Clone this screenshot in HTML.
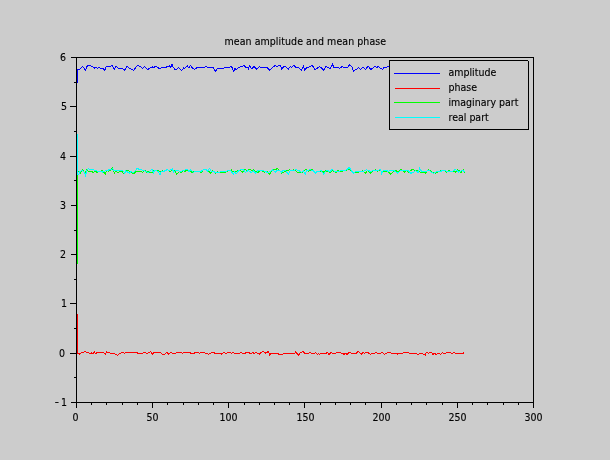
<!DOCTYPE html>
<html><head><meta charset="utf-8"><title>mean amplitude and mean phase</title>
<style>html,body{margin:0;padding:0;background:#cccccc;width:610px;height:460px;overflow:hidden}svg{display:block}</style>
</head><body><svg width="610" height="460" viewBox="0 0 610 460"><rect x="0" y="0" width="610" height="460" fill="#cccccc"/><polyline points="77.50,82.50 77.50,69.80 79.00,69.80 82.60,66.20 85.50,70.50 87.50,65.20 90.10,65.20 94.40,68.20 95.70,67.20 97.60,68.20 99.00,67.50 100.90,68.50 102.90,68.50 104.90,70.20 106.20,66.60 110.80,66.20 112.40,65.20 114.30,69.50 115.90,65.90 118.20,68.50 121.80,68.20 124.80,70.20 127.10,66.20 129.70,68.50 133.60,70.20 137.20,65.60 140.20,66.20 142.50,68.20 144.50,66.60 147.70,69.50 150.00,67.80 152.50,66.80 153.40,67.80 155.40,66.40 157.40,67.30 159.80,69.00 161.80,67.30 163.80,67.30 164.70,67.80 167.20,66.70 168.20,66.80 169.20,65.90 170.60,67.30 172.10,64.40 173.10,66.80 174.60,69.30 176.50,69.30 178.50,67.30 181.50,70.30 183.90,67.80 184.90,68.30 187.40,65.90 188.80,67.80 190.30,65.40 192.30,67.80 194.70,69.30 196.70,67.80 203.10,67.80 206.00,66.40 208.00,67.30 210.00,67.30 211.50,67.30 213.40,67.80 215.40,71.30 217.40,68.30 228.70,67.80 230.60,66.40 232.10,67.30 233.60,71.30 235.10,68.30 236.10,69.80 238.50,67.30 241.50,66.80 243.90,65.40 245.90,67.30 247.40,67.30 248.30,68.80 249.80,65.40 250.80,67.80 251.80,68.80 254.20,66.40 256.20,69.30 259.20,66.80 261.10,67.30 266.00,67.30 268.00,68.30 270.00,70.30 272.00,67.80 275.40,65.40 276.90,66.40 280.30,65.40 281.80,69.30 283.80,66.40 285.70,66.80 288.20,69.30 290.20,66.40 291.60,67.30 294.10,65.40 295.60,67.30 299.00,67.80 301.50,70.30 303.40,66.40 304.90,70.30 306.40,67.80 309.80,66.80 312.30,65.40 314.70,69.30 316.70,68.80 319.20,66.80 321.10,67.30 323.60,70.30 326.00,66.40 328.00,67.80 330.00,68.50 331.00,67.30 332.50,64.40 333.90,67.30 337.40,67.30 339.80,68.30 342.30,66.40 343.80,67.30 347.70,67.30 349.20,64.40 350.00,65.70 351.20,66.10 352.40,67.90 353.50,71.20 354.50,70.40 355.50,69.40 356.50,69.30 358.50,67.30 360.40,69.40 362.40,67.30 363.60,67.50 365.70,69.40 367.70,66.30 368.50,66.50 369.70,68.50 370.90,69.40 372.40,68.50 373.60,67.30 375.20,66.40 376.70,67.80 378.20,66.40 379.70,67.80 382.60,69.30 383.60,67.80 386.00,67.30 388.00,66.40 392.00,67.50 396.00,67.80 400.00,67.20" fill="none" stroke="#0000ff" stroke-width="1" shape-rendering="crispEdges"/><polyline points="77.50,314.00 77.50,353.30 79.00,353.30 79.90,354.30 81.40,352.80 85.30,351.40 86.80,352.80 88.30,352.30 89.80,353.80 91.20,352.80 92.70,353.80 94.20,351.80 95.70,353.80 96.60,352.80 102.50,352.30 104.50,353.30 105.50,354.30 106.50,351.40 108.00,352.80 113.40,353.30 117.30,355.30 121.20,352.80 123.20,352.30 124.70,353.30 126.60,352.30 136.00,352.30 138.00,353.30 142.40,353.30 143.90,352.30 146.80,353.30 148.80,352.80 150.70,351.40 152.50,354.30 153.70,352.30 160.10,352.30 162.50,354.30 164.50,354.30 166.50,352.30 168.90,354.30 170.40,352.30 172.90,353.30 175.30,353.30 177.30,352.30 180.20,352.30 182.20,353.30 184.20,352.30 189.60,352.30 191.10,353.30 194.00,353.30 196.00,352.30 199.90,353.30 200.90,352.30 206.80,353.30 208.80,354.30 211.70,352.30 215.70,353.30 219.60,353.30 221.10,354.30 224.00,352.30 225.50,353.30 229.90,352.30 231.40,353.30 232.90,352.30 234.30,353.30 239.30,353.30 240.70,352.30 242.70,353.30 245.20,353.30 246.60,352.30 249.10,352.80 251.10,353.80 253.00,352.30 254.00,353.80 255.50,352.30 259.40,354.30 261.40,352.30 263.40,351.40 265.80,353.30 268.30,351.40 269.80,355.30 271.20,353.30 277.60,353.30 278.60,354.30 282.50,354.30 283.50,353.30 294.80,353.30 295.80,351.70 298.30,355.30 300.20,352.80 303.20,351.40 304.70,353.30 308.60,353.30 310.10,352.30 311.60,353.30 314.50,353.30 316.00,352.80 317.50,354.30 318.50,353.30 319.40,354.30 321.40,353.30 326.30,353.30 327.30,352.30 329.30,354.80 330.70,352.30 332.20,353.30 335.70,353.30 336.60,352.30 339.60,352.30 342.00,353.30 344.00,354.30 345.50,353.30 347.00,354.30 349.40,352.30 351.40,353.30 356.30,353.30 358.30,351.10 359.80,352.80 361.20,354.30 363.20,352.30 364.70,353.30 366.10,352.30 368.10,352.80 370.10,354.30 372.00,353.30 374.50,353.30 376.00,352.30 377.50,353.30 380.90,353.30 382.40,352.30 384.40,354.30 385.80,353.30 389.80,352.30 391.20,353.30 396.20,353.30 397.10,354.30 398.60,353.30 402.50,353.30 403.50,352.30 408.40,352.30 409.40,353.30 416.30,353.30 417.80,354.30 421.20,353.30 425.20,355.30 426.10,352.80 427.10,352.30 428.60,353.30 431.10,352.30 433.00,354.30 435.00,353.30 436.20,354.50 437.90,353.20 439.10,353.20 440.30,354.50 442.40,352.40 443.60,353.20 445.70,353.20 446.90,352.40 449.80,352.40 451.40,353.20 453.00,353.20 454.30,352.40 455.50,353.20 463.30,353.20 464.40,352.40" fill="none" stroke="#ff0000" stroke-width="1" shape-rendering="crispEdges"/><polyline points="77.50,264.00 77.50,171.50 78.60,171.50 80.30,173.10 82.60,169.50 83.90,171.80 85.20,172.80 86.80,169.20 88.10,171.20 90.00,171.00 91.50,171.50 93.40,172.50 95.00,171.50 97.00,172.20 99.50,171.50 102.20,170.50 103.50,171.80 105.20,174.10 106.50,170.50 108.80,171.20 110.80,170.20 112.40,168.20 114.40,173.10 115.30,171.20 118.00,172.50 119.50,171.50 120.60,170.90 122.20,171.80 123.50,173.50 125.00,172.00 126.50,170.50 128.10,170.50 129.80,171.50 131.50,172.50 133.40,173.50 134.70,173.10 135.70,171.50 137.60,171.20 140.90,171.20 142.60,172.50 144.20,170.20 145.50,170.80 146.50,172.50 148.00,171.50 149.40,172.50 152.10,172.50 153.40,170.20 156.00,170.30 158.00,170.50 160.40,171.80 162.40,170.80 164.80,171.30 167.30,169.30 169.80,171.80 171.70,170.30 174.70,170.30 176.60,174.30 179.10,171.80 181.10,172.30 183.50,170.30 185.00,172.30 186.50,169.80 188.00,170.80 190.40,170.80 191.90,172.30 194.00,171.80 196.30,171.80 199.30,171.80 201.20,172.80 203.20,169.80 206.10,169.30 207.60,170.50 209.10,171.30 210.60,173.30 212.30,170.80 214.00,171.80 215.50,173.30 217.50,171.80 219.00,172.30 221.90,172.30 225.80,172.30 228.80,170.80 231.20,169.80 232.90,171.80 235.20,171.80 237.80,170.80 240.60,170.80 243.00,172.30 244.50,169.30 246.50,170.50 249.90,169.30 251.90,170.80 253.40,170.00 255.80,171.80 258.30,172.30 259.80,170.30 262.00,171.00 264.20,172.30 267.00,171.50 269.60,174.30 272.00,170.80 275.00,169.30 277.50,168.80 279.50,170.50 281.90,173.30 284.80,171.30 287.00,170.80 289.80,169.80 291.80,170.80 293.70,169.80 295.70,171.00 298.60,172.80 301.60,172.80 303.50,170.80 306.00,169.30 308.50,171.00 310.90,169.80 312.90,169.80 315.30,172.80 318.30,171.30 321.00,171.30 323.20,172.30 325.20,170.80 327.70,171.30 330.10,172.30 332.50,170.30 336.00,172.80 338.00,170.00 340.40,171.80 343.00,170.80 345.80,171.00 348.30,169.30 351.20,170.80 353.70,172.80 356.60,172.80 359.60,171.80 362.60,170.80 365.50,173.30 367.50,170.30 370.40,173.30 372.90,170.80 375.30,169.80 377.30,171.30 379.30,169.80 381.00,171.00 382.70,172.30 384.70,170.80 387.00,171.50 389.60,172.80 390.60,174.30 392.50,172.30 395.00,170.80 398.50,171.30 401.40,169.30 404.80,172.30 406.80,170.30 408.80,172.30 410.70,170.30 413.20,169.30 415.40,170.80 417.60,170.30 420.60,172.30 423.00,172.30 425.50,173.30 428.40,169.30 430.90,171.30 433.00,172.30 435.80,173.30 438.00,172.10 441.20,170.50 444.50,170.50 446.80,172.50 448.80,170.50 450.40,171.10 453.00,171.10 455.70,172.10 457.60,169.50 459.00,170.50 460.90,172.50 462.60,170.50 463.50,169.50 464.50,173.10" fill="none" stroke="#00ff00" stroke-width="1" shape-rendering="crispEdges"/><polyline points="77.50,134.00 77.50,174.50 79.00,174.10 79.90,171.80 81.90,170.20 83.50,171.20 85.50,175.40 86.80,170.50 88.50,168.60 89.80,169.50 91.70,169.50 93.00,169.20 94.40,170.50 95.70,170.20 97.60,171.20 100.90,171.20 102.90,172.20 104.20,171.50 106.20,170.20 108.10,170.50 109.40,169.20 111.40,169.20 112.70,168.60 114.00,170.50 116.00,170.20 117.30,170.50 118.60,170.20 121.90,170.20 123.20,171.20 124.90,173.50 125.80,170.90 129.40,173.10 130.80,171.50 132.70,172.50 134.70,171.50 136.00,169.90 137.30,168.20 138.60,169.20 140.60,169.20 142.20,170.20 144.20,170.50 146.20,171.50 148.10,172.50 150.10,170.90 152.10,169.20 153.70,173.10 154.70,170.50 156.00,170.70 158.50,171.80 159.90,174.70 161.40,171.30 163.90,171.30 166.80,169.80 169.50,170.50 172.20,168.80 173.70,171.80 175.70,170.30 178.10,170.30 180.10,171.80 183.00,170.80 185.50,169.80 187.50,169.30 188.90,171.80 190.90,169.80 193.40,172.30 196.30,171.30 201.20,171.30 203.20,169.80 206.10,169.80 207.60,171.30 209.60,168.40 211.10,171.30 213.00,171.00 215.00,172.30 219.00,172.30 222.00,171.50 225.80,171.30 228.80,170.30 231.00,170.80 233.20,174.30 234.70,171.30 236.20,173.80 238.10,171.30 240.60,169.30 243.50,169.80 245.50,172.30 248.40,170.30 251.40,172.80 253.40,170.80 255.80,173.30 258.30,170.30 261.00,171.00 263.20,170.80 266.10,171.80 268.10,172.80 271.10,170.80 273.00,169.80 275.00,172.30 278.00,169.80 280.00,171.00 281.40,172.30 283.40,170.30 286.00,171.00 288.30,174.30 290.30,170.30 293.00,171.00 295.70,169.80 298.60,170.30 301.10,172.30 303.50,171.00 305.50,174.30 306.50,170.30 310.40,169.80 313.40,170.80 315.30,173.30 317.30,171.30 321.20,170.80 323.70,174.30 325.20,171.30 327.60,170.30 329.60,171.80 332.50,169.30 335.00,171.80 338.50,171.80 340.90,170.30 344.00,171.00 346.80,169.80 349.30,167.40 350.70,169.80 353.70,173.30 356.20,171.30 359.00,171.50 361.60,171.80 364.00,171.00 366.50,169.80 368.50,170.80 370.90,171.30 373.50,170.50 376.30,170.80 378.50,170.30 380.70,169.30 381.70,173.30 383.20,170.30 386.10,170.30 388.10,171.30 390.10,170.80 393.00,170.30 395.00,171.30 398.00,173.30 400.40,170.80 403.00,170.80 405.30,170.30 408.00,170.30 410.70,173.30 413.20,172.30 415.70,170.80 418.10,172.30 419.60,168.40 421.60,171.30 424.00,171.50 426.50,171.30 429.40,170.30 431.40,172.30 433.90,173.30 436.30,171.80 439.90,171.50 442.20,170.80 445.20,170.50 446.80,171.80 449.00,171.00 451.40,171.50 453.40,170.80 455.00,169.50 457.00,170.50 458.60,172.10 460.50,171.50 462.20,170.50 463.50,171.00 464.50,171.80" fill="none" stroke="#00ffff" stroke-width="1" shape-rendering="crispEdges"/><rect x="76.5" y="57.5" width="457" height="345" fill="none" stroke="#000" stroke-width="1" shape-rendering="crispEdges"/><path d="M71,402.5H76 M70,353.5H76 M70,303.5H76 M71,254.5H76 M71,205.5H76 M70,156.5H76 M70,106.5H76 M71,57.5H76 M74,377.5H76 M74,328.5H76 M74,279.5H76 M74,230.5H76 M74,180.5H76 M74,131.5H76 M74,82.5H76 M76.5,402V408 M152.5,402V408 M228.5,402V408 M304.5,402V408 M381.5,402V408 M457.5,402V408 M533.5,402V408 M91.5,402V405 M106.5,402V405 M122.5,402V405 M137.5,402V405 M167.5,402V405 M183.5,402V405 M198.5,402V405 M213.5,402V405 M244.5,402V405 M259.5,402V405 M274.5,402V405 M289.5,402V405 M320.5,402V405 M335.5,402V405 M350.5,402V405 M365.5,402V405 M396.5,402V405 M411.5,402V405 M426.5,402V405 M442.5,402V405 M472.5,402V405 M487.5,402V405 M503.5,402V405 M518.5,402V405" stroke="#000" stroke-width="1" fill="none" shape-rendering="crispEdges"/><g font-family="DejaVu Sans Condensed, Liberation Sans, sans-serif" font-size="10.5" fill="#000" stroke="#000" stroke-width="0.12"><text x="54.8" y="405" textLength="4.2" lengthAdjust="spacingAndGlyphs">-</text><text x="67" y="406" text-anchor="end">1</text><text x="65" y="357" text-anchor="end">0</text><text x="67" y="307" text-anchor="end">1</text><text x="66" y="258" text-anchor="end">2</text><text x="66" y="209" text-anchor="end">3</text><text x="66" y="160" text-anchor="end">4</text><text x="67" y="110" text-anchor="end">5</text><text x="66" y="61" text-anchor="end">6</text><text x="75.5" y="421" text-anchor="middle">0</text><text x="152.5" y="421" text-anchor="middle">50</text><text x="228.5" y="421" text-anchor="middle">100</text><text x="305.5" y="421" text-anchor="middle">150</text><text x="381.5" y="421" text-anchor="middle">200</text><text x="457.5" y="421" text-anchor="middle">250</text><text x="533.5" y="421" text-anchor="middle">300</text><text x="305.3" y="45" text-anchor="middle" textLength="161.5" lengthAdjust="spacing">mean amplitude and mean phase</text></g><rect x="389" y="60" width="140" height="70" fill="#cccccc"/><path d="M389.5,130V60.5H528M528.5,61V130M389,129.5H529" fill="none" stroke="#000" stroke-width="1" shape-rendering="crispEdges"/><path d="M394,73.5H440" stroke="#0000ff" stroke-width="1" shape-rendering="crispEdges"/><text x="448.5" y="76" textLength="47.75" font-family="DejaVu Sans Condensed, Liberation Sans, sans-serif" font-size="10.5" fill="#000" stroke="#000" stroke-width="0.12">amplitude</text><path d="M395,88.5H440" stroke="#ff0000" stroke-width="1" shape-rendering="crispEdges"/><text x="448.5" y="91" textLength="28.52" font-family="DejaVu Sans Condensed, Liberation Sans, sans-serif" font-size="10.5" fill="#000" stroke="#000" stroke-width="0.12">phase</text><path d="M394,102.5H440" stroke="#00ff00" stroke-width="1" shape-rendering="crispEdges"/><text x="448.5" y="106" textLength="69.86" font-family="DejaVu Sans Condensed, Liberation Sans, sans-serif" font-size="10.5" fill="#000" stroke="#000" stroke-width="0.12">imaginary part</text><path d="M395,117.5H440" stroke="#00ffff" stroke-width="1" shape-rendering="crispEdges"/><text x="448.5" y="121" textLength="40.25" font-family="DejaVu Sans Condensed, Liberation Sans, sans-serif" font-size="10.5" fill="#000" stroke="#000" stroke-width="0.12">real part</text></svg></body></html>
